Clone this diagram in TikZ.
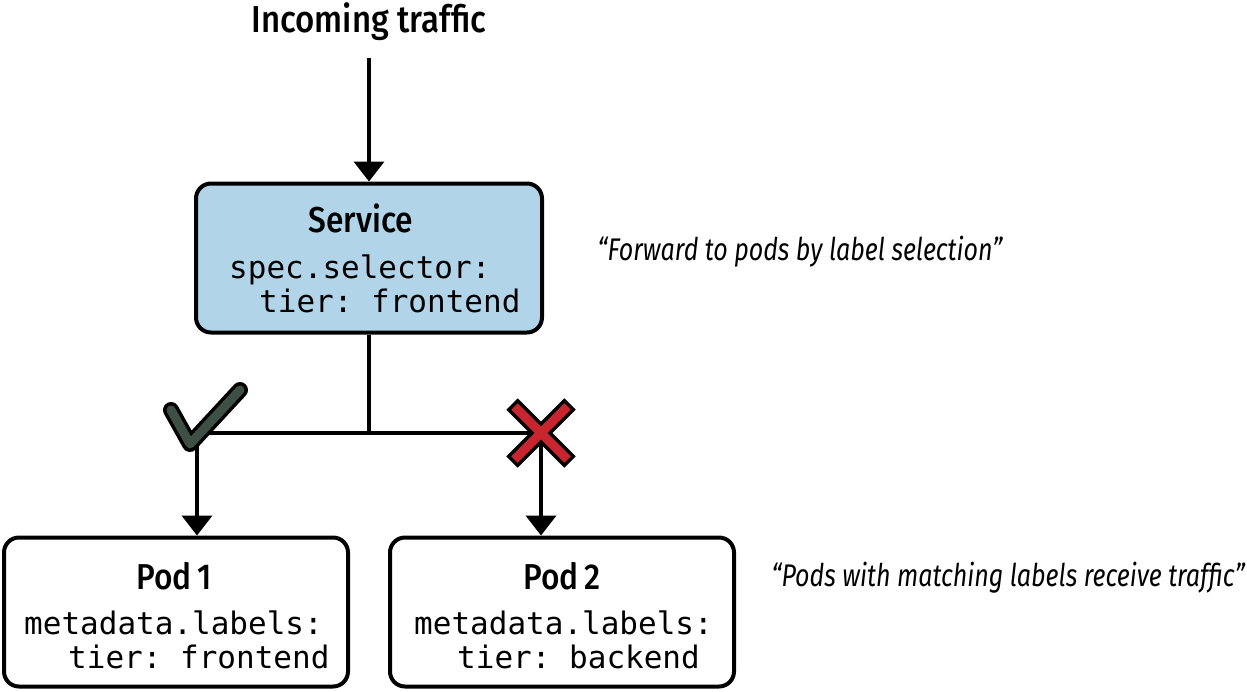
\documentclass[tikz,border=0pt]{standalone}
\usepackage{fontspec}
\setmainfont{Fira Sans}
\newfontfamily\headfont{Fira Sans}[UprightFont={* Medium}, FakeStretch=0.88]
\newfontfamily\quotefont{Fira Sans}[FakeStretch=0.80]
\newfontfamily\codefont{DejaVu Sans Mono}
\usetikzlibrary{arrows.meta}
\definecolor{svcblue}{HTML}{B2D4E9}
\definecolor{checkgreen}{HTML}{3E5046}
\definecolor{crossred}{HTML}{C9252F}
\tikzset{
  box/.style={draw=black, line width=4pt, rounded corners=15pt, inner sep=0pt},
  conn/.style={line width=4pt, draw=black},
  arr/.style={conn, -{Triangle[length=20pt,width=30pt]}},
  title/.style={font=\headfont\fontsize{36}{42}\selectfont, inner sep=0pt},
  code/.style={font=\codefont\fontsize{31}{36}\selectfont\frenchspacing, anchor=base west, inner sep=0pt},
  quote/.style={font=\quotefont\fontsize{31.3}{36}\selectfont\itshape, inner sep=0pt},
}
\begin{document}
\begin{tikzpicture}[x=1pt,y=-1pt]
\useasboundingbox (0,0) rectangle (1247,691);
% nodes
\node[title, font=\headfont\fontsize{37.5}{42}\selectfont] (traffic) at (369,22) {Incoming traffic};
\node[box, fill=svcblue, minimum width=346pt, minimum height=149pt] (svc) at (369,258) {};
\node[box, fill=white, minimum width=344pt, minimum height=149pt] (pod1) at (176,612) {};
\node[box, fill=white, minimum width=344pt, minimum height=149pt] (pod2) at (562,612) {};
% texts in boxes
\node[title] (svct) at (361,218) {Service};
\node[code] (svc1) at (229,278) {spec.selector:};
\node[code] (svc2) at (259,312) {tier: frontend};
\node[title] (pod1t) at (174,576) {Pod\,1};
\node[code] (pod1a) at (24,634) {metadata.labels:};
\node[code] (pod1b) at (68,668) {tier: frontend};
\node[title] (pod2t) at (562,576) {Pod\,2};
\node[code] (pod2a) at (414,634) {metadata.labels:};
\node[code] (pod2b) at (457,668) {tier: backend};
% quotes
\node[quote] (q1) at (800,252) {“Forward to pods by label selection”};
\node[quote, anchor=east] (q2) at (1245,578) {“Pods with matching labels receive traffic”};
% connectors
\coordinate (j) at (369,433);
\coordinate (jl) at (197,433);
\coordinate (jr) at (541,433);
\draw[arr] (traffic.south |- 0,58) -- (svc.north);
\draw[conn] (svc.south) -- (j);
\draw[conn] (jl) -- (jr);
\draw[arr] (jl) -- (jl |- pod1.north);
\draw[arr] (jr) -- (jr |- pod2.north);
% check mark
\draw[line width=16pt, line cap=round, line join=round, black] (171,410) -- (190,444) -- (240,390);
\draw[line width=9pt, line cap=round, line join=round, checkgreen] (171,410) -- (190,444) -- (240,390);
% cross
\draw[line width=16pt, black] (512,404) -- (570,462) (512,462) -- (570,404);
\draw[line width=9pt, crossred] (514.5,406.5) -- (567.5,459.5) (514.5,459.5) -- (567.5,406.5);
\end{tikzpicture}
\end{document}
